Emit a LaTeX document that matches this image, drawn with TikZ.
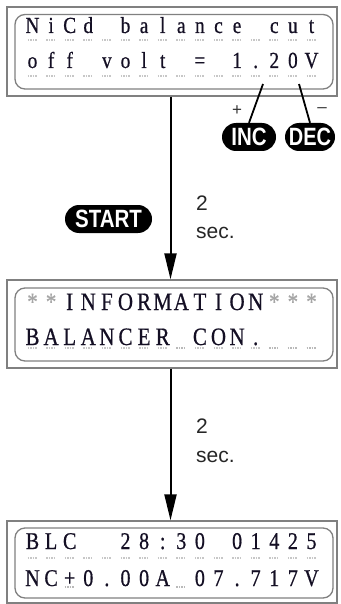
\documentclass[tikz,border=0pt]{standalone}
\usepackage{fontspec}
\setmainfont{Liberation Serif}
\newfontfamily\lsans{Liberation Sans}
\newfontfamily\lcdfont{Liberation Serif}[FakeBold=0.7]
\usetikzlibrary{arrows.meta}
\definecolor{framecol}{gray}{0.5}
\definecolor{ulcol}{gray}{0.78}
\definecolor{lcdtext}{rgb}{0.08,0.06,0.14}
\tikzset{
  lcdframe/.style={draw=framecol, line width=1.3pt, minimum width=330pt, inner sep=0pt},
  lcdinner/.style={draw=framecol, line width=1.3pt, rounded corners=10pt},
  ch/.style={anchor=base, inner sep=0pt, text=lcdtext},
  ulmark/.style={draw=ulcol, line width=1.1pt, dash pattern=on 1.5pt off 1pt},
  ulstrong/.style={draw=gray!55, line width=1.1pt, dash pattern=on 1.5pt off 1pt},
  badge/.style={fill=black, rounded corners=14pt, text=white, inner sep=0pt, minimum height=28pt,
    font=\lsans\bfseries\fontsize{25}{25}\selectfont},
  flow/.style={line width=2pt, -{Triangle[width=12pt,length=26pt]}},
  lead/.style={line width=1.8pt},
  sectext/.style={anchor=base west, inner sep=0pt, text=black!85, font=\lsans\fontsize{21}{21}\selectfont},
  signtext/.style={inner sep=0pt, text=black!80, font=\lsans\fontsize{17}{17}\selectfont}
}
\newcommand\lcdrow[4]{%
  \foreach \c [count=\i from 0] in {#3} {%
    \node[ch, font=\lcdfont\fontsize{#4}{#4}\selectfont] (#1-\i) at (32.5+18.6*\i, #2) {\scalebox{0.84}[1]{\c}};}}
\newcommand\lcdunder[2]{%
  \foreach \i in {#2} {\draw[ulmark] (27.5+18.6*\i, #1) -- ++(10,0);}}
\begin{document}
\begin{tikzpicture}[x=1pt,y=-1pt]
\useasboundingbox (0,0) rectangle (340,604);
% frames
\node[lcdframe, minimum height=89pt] (box1) at (172,51.5) {};
\node[lcdframe, minimum height=88pt] (box2) at (172,324) {};
\node[lcdframe, minimum height=82pt] (box3) at (172,562) {};
\draw[lcdinner] (15,14.5) rectangle (333,89);
\draw[lcdinner] (15,288) rectangle (333,361);
\draw[lcdinner] (15,528) rectangle (333,598);
% underline marks
\lcdunder{40}{0,...,15}
\lcdunder{76}{0,...,15}
\lcdunder{348}{0,...,15}
\foreach \i in {8,13,14,15} {\draw[ulstrong] (27.5+18.6*\i, 348) -- ++(10,0);}
\lcdunder{558}{0,...,15}
\foreach \i in {2,8} {\draw[ulstrong] (27.5+18.6*\i, 587) -- ++(10,0);}
% texts
\lcdrow{aa}{33}{N,i,C,d,{},b,a,l,a,n,c,e,{},c,u,t}{23}
\lcdrow{ab}{68}{o,f,f,{},v,o,l,t,{},=,{},1,.,2,0,V}{23}
\lcdrow{ba}{310}{{\color{gray!70}*},{\color{gray!70}*},I,N,F,O,R,M,A,T,I,O,N,{\color{gray!70}*},{\color{gray!70}*},{\color{gray!70}*}}{25}
\lcdrow{bb}{345}{B,A,L,A,N,C,E,R,{},C,O,N,.,{},{},{}}{25}
\lcdrow{ca}{549}{B,L,C,{},{},2,8,:,3,0,{},0,1,4,2,5}{24}
\lcdrow{cb}{586}{N,C,+,0,.,0,0,A,{},0,7,.,7,1,7,V}{24}
% badges
\node[badge, minimum width=54pt] (inc) at (249,137) {\scalebox{0.82}[1]{INC}};
\node[badge, minimum width=50pt] (dec) at (310,137) {\scalebox{0.8}[1]{DEC}};
\node[badge, minimum width=87pt] (start) at (108.5,219) {\scalebox{0.82}[1]{START}};
\node[signtext] (plus) at (237,111) {+};
\node[signtext] (minus) at (322,110) {–};
% leaders
\coordinate (incpt) at (263,84);
\coordinate (decpt) at (299,84);
\draw[lead] (incpt) -- (inc.north);
\draw[lead] (decpt) -- (dec.north);
% flow arrows
\coordinate (ax) at (170.5,0);
\draw[flow] (box1.south -| ax) -- (box2.north -| ax);
\draw[flow] (box2.south -| ax) -- (box3.north -| ax);
% timing labels
\node[sectext] (t1a) at (196,210) {2};
\node[sectext] (t1b) at (196,238) {sec.};
\node[sectext] (t2a) at (196,433) {2};
\node[sectext] (t2b) at (196,462) {sec.};
\end{tikzpicture}
\end{document}
